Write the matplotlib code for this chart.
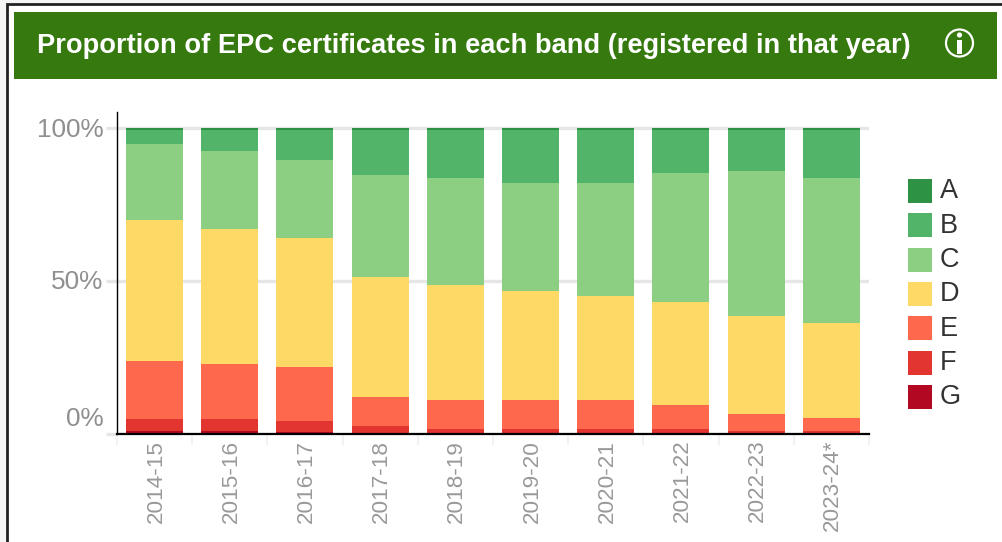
import matplotlib
matplotlib.use("Agg")
import matplotlib.pyplot as plt
from matplotlib.patches import Rectangle, Circle
from matplotlib.transforms import ScaledTranslation
import numpy as np

plt.rcParams["font.family"] = ["Liberation Sans", "DejaVu Sans"]

years = ["2014-15", "2015-16", "2016-17", "2017-18", "2018-19",
         "2019-20", "2020-21", "2021-22", "2022-23", "2023-24*"]
bands = ["A", "B", "C", "D", "E", "F", "G"]
colours = ["#2E9244", "#52B468", "#8DCF82", "#FED966", "#FE684D", "#E23530", "#B30821"]

# percent of certificates
band_g = [0.8, 0.8, 0.5, 0.2, 0.1, 0.1, 0.1, 0.1, 0.1, 0.1]
band_f = [3.9, 3.9, 3.6, 2.3, 1.4, 1.4, 1.4, 1.4, 0.7, 0.7]
band_e = [19.0, 18.0, 17.7, 9.4, 9.5, 9.5, 9.5, 7.8, 5.6, 4.3]
band_d = [46.2, 44.2, 42.2, 39.3, 37.6, 35.6, 34.0, 33.7, 32.1, 31.1]
band_c = [24.9, 25.6, 25.8, 33.4, 35.0, 35.4, 37.0, 42.3, 47.4, 47.4]
band_b = [4.7, 7.0, 9.7, 14.9, 15.9, 17.5, 17.5, 14.2, 13.6, 15.9]
band_a = [0.5, 0.5, 0.5, 0.5, 0.5, 0.5, 0.5, 0.5, 0.5, 0.5]

W, H = 1002, 542
fig = plt.figure(figsize=(W / 100, H / 100), dpi=100, facecolor="#f5f5f5")

# page layer in pixel coordinates
page = fig.add_axes([0, 0, 1, 1])
page.set_xlim(0, W)
page.set_ylim(H, 0)
page.axis("off")
page.add_patch(Rectangle((7, 4), W, H, facecolor="white", edgecolor="#222222", linewidth=2))
page.add_patch(Rectangle((14, 12), 983, 67, facecolor="#35790F", edgecolor="none"))
page.text(37, 46, "Proportion of EPC certificates in each band (registered in that year)",
          color="white", fontsize=19.63, fontweight="bold", va="center", ha="left")
# info icon
page.add_patch(Circle((959.5, 43), 13.5, facecolor="none", edgecolor="white", linewidth=1.6))
page.add_patch(Circle((959.5, 35), 2.6, facecolor="white", edgecolor="none"))
page.add_patch(Rectangle((957.2, 40), 4.6, 13.5, facecolor="white", edgecolor="none"))

# chart
ax = fig.add_axes([116.9 / W, 1 - 433.5 / H, 752 / W, 321.5 / H])
ax.patch.set_alpha(0)
x = np.arange(len(years))
bottom = np.zeros(len(years))
series = [band_g, band_f, band_e, band_d, band_c, band_b, band_a]
for vals, col, name in zip(series, colours[::-1], bands[::-1]):
    ax.bar(x, vals, width=57 / 75.2, bottom=bottom, color=col, label=name, zorder=3)
    bottom += np.array(vals)

ax.set_xlim(-0.5, len(years) - 0.5)
ax.set_ylim(0, 105.4)
ax.set_yticks([0, 50, 100])
ax.set_yticklabels(["0%", "50%", "100%"])
ax.grid(axis="y", color="#e6e6e6", linewidth=2.4, zorder=0)
ax.tick_params(axis="y", length=8, width=2.4, color="#e6e6e6", labelcolor="#8f8f8f",
               labelsize=18.8, pad=1.8)
# the 0% label sits above the baseline, the 100% and 50% ones on their lines
ytick_labels = ax.get_yticklabels()
ytick_labels[0].set_transform(ytick_labels[0].get_transform()
                              + ScaledTranslation(0, 17 / 100, fig.dpi_scale_trans))
for lab in ytick_labels[1:]:
    lab.set_transform(lab.get_transform()
                      + ScaledTranslation(0, 1 / 100, fig.dpi_scale_trans))

ax.set_xticks(x)
ax.set_xticklabels(years, rotation=90, ha="center", va="top")
ax.tick_params(axis="x", length=0, labelcolor="#999999", labelsize=16.2, pad=4.5)
for lab in ax.get_xticklabels():
    lab.set_transform(lab.get_transform()
                      + ScaledTranslation(1.5 / 100, 0, fig.dpi_scale_trans))
ax.set_xticks(np.arange(len(years) + 1) - 0.5, minor=True)
ax.tick_params(axis="x", which="minor", length=8, width=1.5, color="#f2f2f2")
for s in ["top", "right"]:
    ax.spines[s].set_visible(False)
ax.spines["left"].set_linewidth(1)
ax.spines["bottom"].set_linewidth(1.6)
ax.spines["left"].set_zorder(5)
ax.spines["bottom"].set_zorder(5)

# legend
for i, (name, col) in enumerate(zip(bands, colours)):
    y = 191 + 34.3 * i
    page.add_patch(Rectangle((908, y - 12), 24, 24, facecolor=col, edgecolor="none"))
    page.text(940, y + 0.5, name, color="#333333", fontsize=19.5, va="center", ha="left")

fig.savefig("out.png", dpi=100, facecolor=fig.get_facecolor())
